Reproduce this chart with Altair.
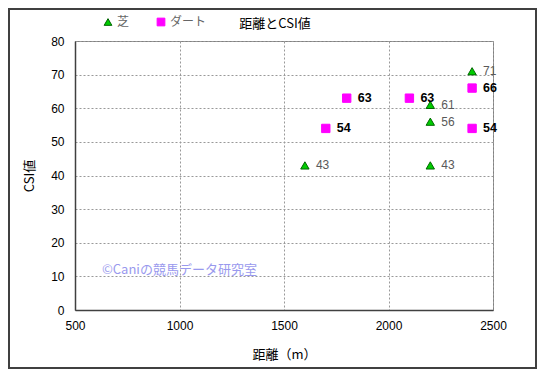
import altair as alt
import pandas as pd

# ---- data ----
turf_dist = [1600, 2200, 2200, 2200, 2400]
turf_csi = [43, 61, 56, 43, 71]
dirt_dist = [1700, 1800, 2100, 2400, 2400]
dirt_csi = [54, 63, 63, 66, 54]
types = ["芝", "ダート"]
x_ticks = [500, 1000, 1500, 2000, 2500]
y_ticks = [0, 10, 20, 30, 40, 50, 60, 70, 80]
chart_title = "距離とCSI値"
watermark_text = "©Caniの競馬データ研究室"

df = pd.DataFrame({
    "dist": turf_dist + dirt_dist,
    "csi": turf_csi + dirt_csi,
    "type": [types[0]] * len(turf_dist) + [types[1]] * len(dirt_dist),
})

JP = "Noto Sans CJK JP"
LAT = "Liberation Sans"

legend = alt.Legend(
    title=None, orient="none", direction="horizontal",
    legendX=27, legendY=-25, padding=0,
    labelFont=JP, labelFontSize=12, labelColor="#666666",
    columnPadding=25, labelOffset=3, symbolStrokeWidth=1, symbolSize=60,
)

x_enc = alt.X("dist:Q", scale=alt.Scale(domain=[500, 2500], nice=False),
              axis=alt.Axis(values=x_ticks, title="距離（m）", format="d",
                            labelOverlap=False, labelFlush=False))
y_enc = alt.Y("csi:Q", scale=alt.Scale(domain=[0, 80], nice=False),
              axis=alt.Axis(values=y_ticks, title="CSI値",
                            labelOverlap=False, labelFlush=False))

base = alt.Chart(df)

points = base.mark_point(size=70, opacity=1, strokeWidth=1).encode(
    x=x_enc, y=y_enc,
    shape=alt.Shape("type:N", scale=alt.Scale(domain=types, range=["triangle-up", "square"]), legend=legend),
    fill=alt.Fill("type:N", scale=alt.Scale(domain=types, range=["#00cc00", "#ff00ff"]), legend=legend),
    stroke=alt.Stroke("type:N", scale=alt.Scale(domain=types, range=["#006600", "#ff00ff"]), legend=legend),
)

turf_labels = base.transform_filter(alt.datum.type == types[0]).mark_text(
    align="left", baseline="middle", dx=11, font=LAT, fontSize=12, color="#595959"
).encode(x=x_enc, y=y_enc, text="csi:Q")

dirt_labels = base.transform_filter(alt.datum.type == types[1]).mark_text(
    align="left", baseline="middle", dx=11, font=LAT, fontSize=12.5, fontWeight="bold", color="#000000"
).encode(x=x_enc, y=y_enc, text="csi:Q")

one = alt.Chart(pd.DataFrame({"t": [watermark_text], "title": [chart_title]}))
watermark = one.mark_text(
    align="left", baseline="middle", font=JP, fontSize=13, color="#9999ee"
).encode(x=alt.value(27), y=alt.value(229), text="t:N")

title_mark = one.mark_text(
    align="center", baseline="middle", font=JP, fontSize=13, color="#000000"
).encode(x=alt.value(200), y=alt.value(-17), text="title:N")

frame = one.mark_rect(fill="transparent", stroke="#404040", strokeWidth=2).encode(
    x=alt.value(-66), x2=alt.value(461), y=alt.value(-32), y2=alt.value(327)
)

chart = alt.layer(frame, points, turf_labels, dirt_labels, watermark, title_mark).properties(
    width=418, height=269,
    autosize=alt.AutoSizeParams(type="none"),
    padding={"left": 67, "top": 33, "right": 44, "bottom": 59},
    background="white",
).configure_view(
    stroke="#808080", strokeWidth=1
).configure_axis(
    grid=True, gridDash=[2, 2], gridColor="#999999", gridWidth=1,
    ticks=False, domainColor="#404040", domainWidth=1.5,
    labelFont=LAT, labelFontSize=12, labelColor="#000000",
    titleFont=JP, titleFontSize=13, titleFontWeight="normal", titleColor="#000000",
).configure_axisX(
    labelPadding=10, titlePadding=17
).configure_axisY(
    labelPadding=11, titlePadding=14
)

chart.save("out.html", embed_options={"renderer": "svg", "actions": False})
